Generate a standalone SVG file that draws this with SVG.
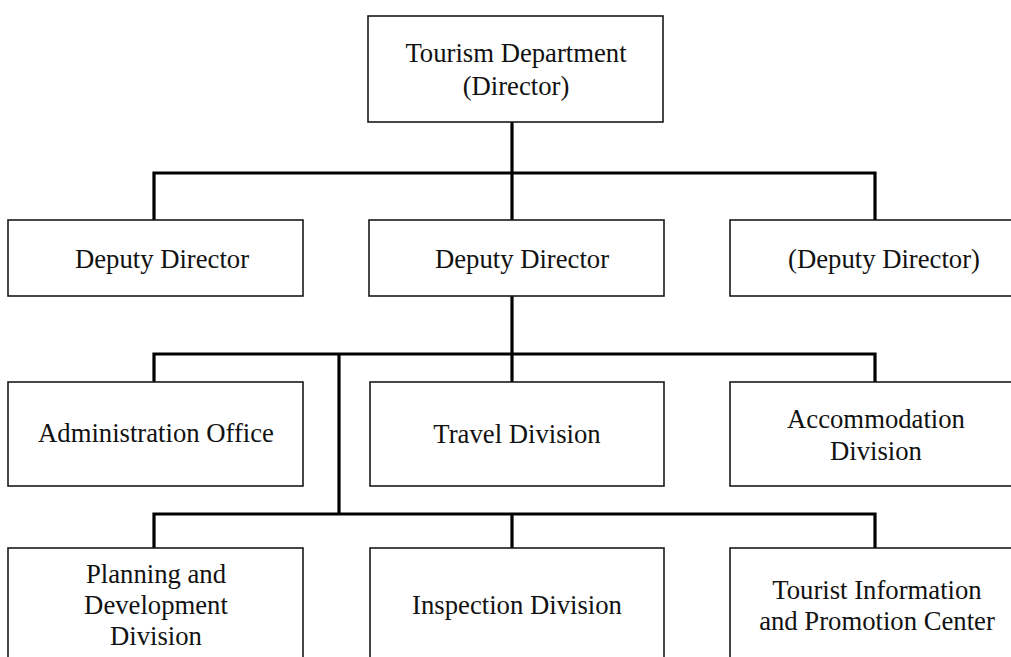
<svg xmlns="http://www.w3.org/2000/svg" width="1011" height="657" viewBox="0 0 1011 657">
  <style>
    .box { fill: #ffffff; stroke: #1a1a1a; stroke-width: 1.6; }
    .lbl { font-size: 26.7px; fill: #111111; text-anchor: middle; }
    .link { fill: none; stroke: #000000; stroke-width: 3.2; stroke-linejoin: miter; }
  </style>
  <rect width="1011" height="657" fill="#ffffff"/>

  <!-- connectors -->
  <g id="connectors">
    <path class="link" d="M512 122 V220"/>
    <path class="link" d="M154 220 V173 H875 V220"/>
    <path class="link" d="M512 296 V382"/>
    <path class="link" d="M154 382 V354 H875 V382"/>
    <path class="link" d="M339 354 V514"/>
    <path class="link" d="M154 548 V514 H875 V548"/>
    <path class="link" d="M512 514 V548"/>
  </g>

  <g font-family="Liberation Serif">
    <!-- level 0 -->
    <g id="director">
      <rect class="box" x="368" y="16" width="295" height="106"/>
      <text class="lbl" x="516" y="62">Tourism Department</text>
      <text class="lbl" x="516" y="95">(Director)</text>
    </g>

    <!-- level 1 -->
    <g id="deputy-left">
      <rect class="box" x="8" y="220" width="295" height="76"/>
      <text class="lbl" x="162" y="268">Deputy Director</text>
    </g>
    <g id="deputy-center">
      <rect class="box" x="369" y="220" width="295" height="76"/>
      <text class="lbl" x="522" y="268">Deputy Director</text>
    </g>
    <g id="deputy-right">
      <rect class="box" x="730" y="220" width="295" height="76"/>
      <text class="lbl" x="884" y="268">(Deputy Director)</text>
    </g>

    <!-- level 2 -->
    <g id="administration-office">
      <rect class="box" x="8" y="382" width="295" height="104"/>
      <text class="lbl" x="156" y="442">Administration Office</text>
    </g>
    <g id="travel-division">
      <rect class="box" x="370" y="382" width="294" height="104"/>
      <text class="lbl" x="517" y="443">Travel Division</text>
    </g>
    <g id="accommodation-division">
      <rect class="box" x="730" y="382" width="295" height="104"/>
      <text class="lbl" x="876" y="428">Accommodation</text>
      <text class="lbl" x="876" y="460">Division</text>
    </g>

    <!-- level 3 -->
    <g id="planning-development-division">
      <rect class="box" x="8" y="548" width="295" height="130"/>
      <text class="lbl" x="156" y="583">Planning and</text>
      <text class="lbl" x="156" y="614">Development</text>
      <text class="lbl" x="156" y="645">Division</text>
    </g>
    <g id="inspection-division">
      <rect class="box" x="370" y="548" width="294" height="130"/>
      <text class="lbl" x="517" y="614">Inspection Division</text>
    </g>
    <g id="tourist-information-center">
      <rect class="box" x="730" y="548" width="295" height="130"/>
      <text class="lbl" x="877" y="599">Tourist Information</text>
      <text class="lbl" x="877" y="630">and Promotion Center</text>
    </g>
  </g>
</svg>
